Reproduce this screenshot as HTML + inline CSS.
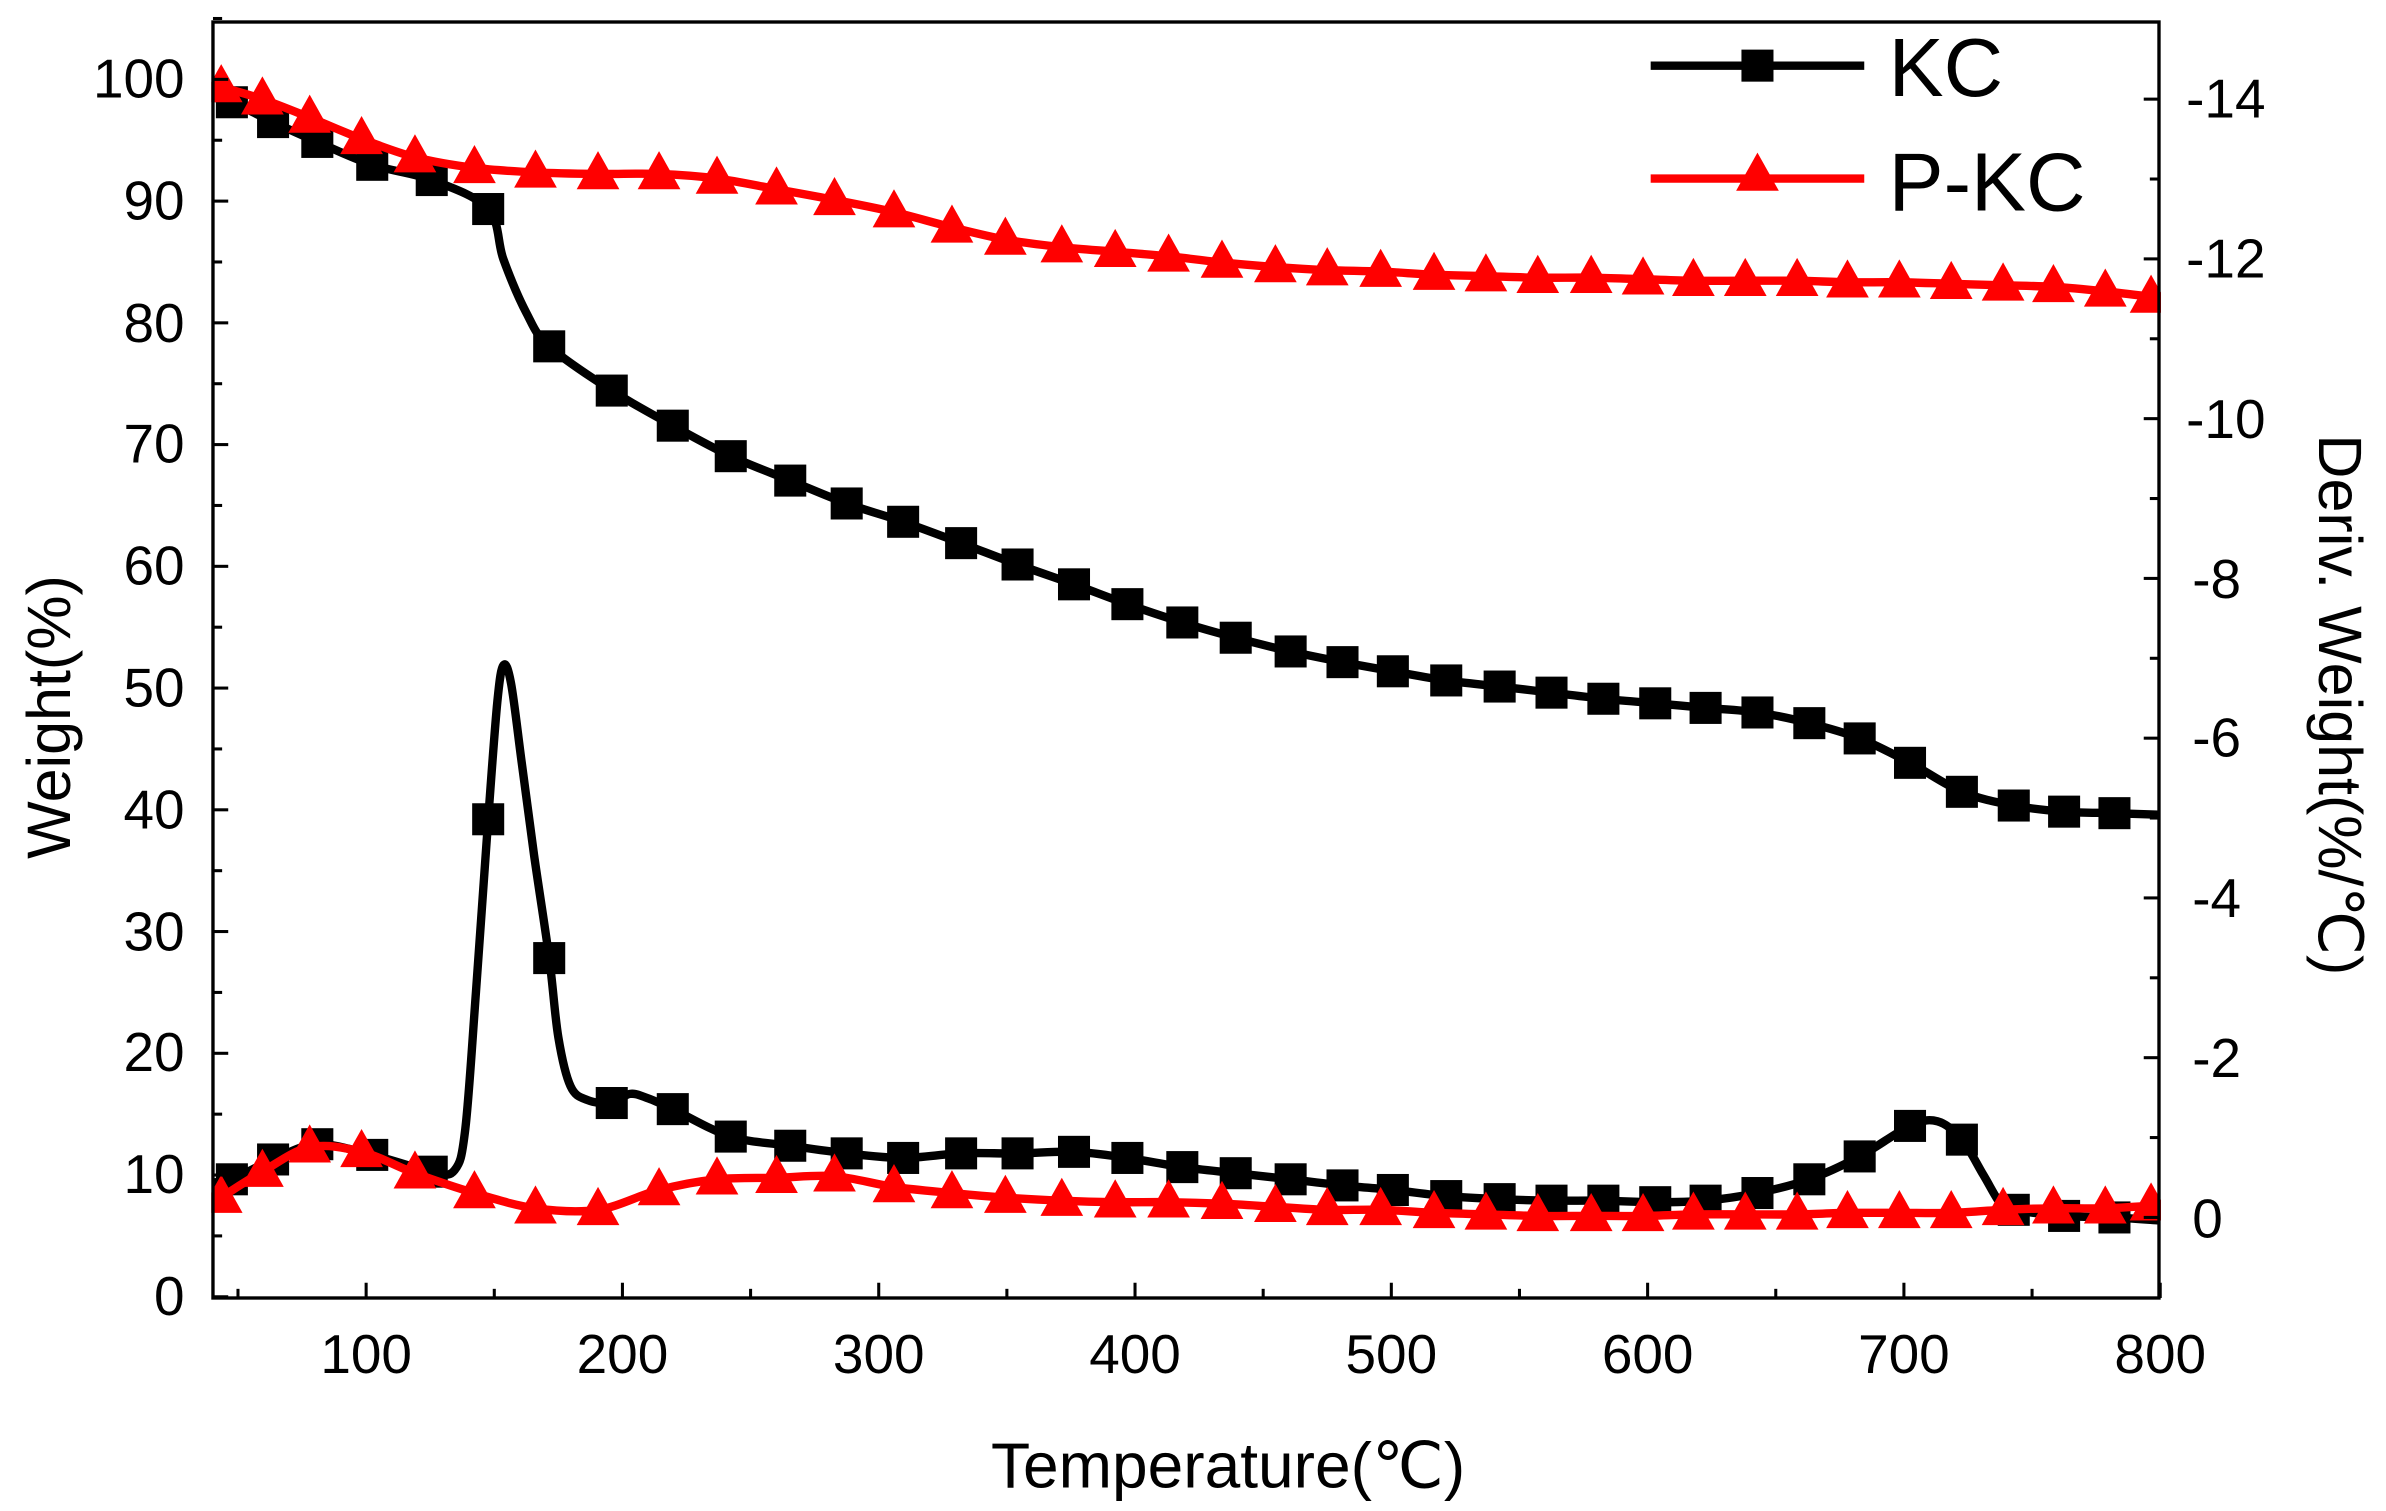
<!DOCTYPE html>
<html><head><meta charset="utf-8"><style>html,body{margin:0;padding:0;background:#fff}svg{display:block}</style></head>
<body>
<svg id="s" width="2386" height="1511" viewBox="0 0 1564 990.4" xmlns="http://www.w3.org/2000/svg" font-family="Liberation Sans, sans-serif">
<rect x="0" y="0" width="1564" height="990.4" fill="#fff"/>
<g id="plot"></g>
<rect x="139.6" y="14.4" width="1275.6" height="836.4" fill="none" stroke="#000" stroke-width="2.2"/>
<g id="ticks" stroke="#000" stroke-width="2"></g>
<g font-size="36" fill="#000" text-anchor="end">
<text x="121" y="64">100</text><text x="121" y="144">90</text><text x="121" y="224">80</text><text x="121" y="303">70</text><text x="121" y="383">60</text><text x="121" y="463">50</text><text x="121" y="543">40</text><text x="121" y="623">30</text><text x="121" y="702">20</text><text x="121" y="782">10</text><text x="121" y="862">0</text>
</g>
<g font-size="36" fill="#000" text-anchor="middle">
<text x="240" y="900">100</text><text x="408" y="900">200</text><text x="576" y="900">300</text><text x="744" y="900">400</text><text x="912" y="900">500</text><text x="1080" y="900">600</text><text x="1248" y="900">700</text><text x="1416" y="900">800</text>
</g>
<g font-size="36" fill="#000" text-anchor="start">
<text x="1433" y="77">-14</text><text x="1433" y="182">-12</text><text x="1433" y="287">-10</text><text x="1437" y="392">-8</text><text x="1437" y="496">-6</text><text x="1437" y="601">-4</text><text x="1437" y="706">-2</text><text x="1437" y="811">0</text>
</g>
<text x="805" y="975" font-size="42" text-anchor="middle">Temperature(℃)</text>
<text transform="translate(46,470) rotate(-90)" font-size="40" text-anchor="middle">Weight(%)</text>
<text transform="translate(1520,462) rotate(90)" font-size="40" text-anchor="middle">Deriv. Weight(%/℃)</text>
<g id="legend"></g>
<text x="1238" y="63" font-size="54">KC</text>
<text x="1238" y="138" font-size="54">P-KC</text>
</svg>
<script>
const NS="http://www.w3.org/2000/svg";
function el(p,t,a){const e=document.createElementNS(NS,t);for(const k in a)e.setAttribute(k,a[k]);p.appendChild(e);return e;}
function path(pts){let d="M"+pts[0][0]+","+pts[0][1];for(let i=0;i<pts.length-1;i++){const p0=pts[i-1]||pts[i],p1=pts[i],p2=pts[i+1],p3=pts[i+2]||p2;const c1=[p1[0]+(p2[0]-p0[0])/6,p1[1]+(p2[1]-p0[1])/6],c2=[p2[0]-(p3[0]-p1[0])/6,p2[1]-(p3[1]-p1[1])/6];d+=`C${c1[0]},${c1[1]} ${c2[0]},${c2[1]} ${p2[0]},${p2[1]}`;}return d;}
const X=t=>240+(t-100)*1.68, YW=w=>850-7.98*w;
const g=document.getElementById("plot");
function sq(x,y,p){el(p||g,"rect",{x:x-10.5,y:y-10.5,width:21,height:21,fill:"#000"});}
function tri(x,y,p){el(p||g,"polygon",{points:`${x},${y-15} ${x-14},${y+10} ${x+14},${y+10}`,fill:"#f00"});}
const kcmx=[152,179,208,244,283,320,360,401,441,479,518,555,592,630,667,704,739,775,810,846,880,913,948,983,1017,1051,1085,1118,1152,1186,1219,1252,1286,1320,1353,1386];
const kcwy=[67,80,93,108,118,137,227,256,279,299,315,330,342,356,370,383,396,408,418,427,434,440,446,450,454,458,461,464,467,474,484,500,519,528,532,533];
let kw=[[140,64]];for(let i=0;i<kcmx.length;i++){kw.push([kcmx[i],kcwy[i]]);if(i==5){kw.push([330,170],[345,205]);}}kw.push([1415,534]);
let kd=[[140,775],[152,773],[179,760],[208,750],[244,757],[283,768],[298,767],[305,740],[312,650],[320,537],[326,460],[330,436],[335,448],[342,500],[350,560],[360,628],[366,680],[374,712],[385,721],[401,723],[413,717],[425,720],[441,727],[479,745],[518,751],[555,756],[592,759],[630,756],[667,756],[704,755],[739,759],[775,765],[810,769],[846,773],[880,777],[913,780],[948,784],[983,786],[1017,787],[1051,787],[1085,788],[1118,787],[1152,782],[1186,773],[1219,758],[1252,738],[1270,735],[1286,747],[1300,770],[1312,790],[1320,793],[1353,797],[1386,798],[1415,800]];
const pmx=[145,172,203,237,272,311,351,392,432,470,509,547,586,624,659,696,731,766,801,836,870,905,940,974,1008,1043,1077,1110,1144,1178,1211,1245,1279,1313,1346,1380,1414];
const pwy=[57,65,77,91,103,110,113,114,114,117,124,131,139,149,157,162,165,168,172,175,177,178,180,181,182,182,183,184,184,184,185,185,186,187,188,191,195];
const pdy=[785,768,752,755,769,782,792,793,780,773,772,771,778,782,785,787,788,788,789,791,793,793,795,796,797,797,797,796,796,796,795,795,795,793,792,792,790];
let pw=[[140,55]],pd=[[140,790]];for(let i=0;i<pmx.length;i++){pw.push([Math.min(pmx[i],1415),pwy[i]]);pd.push([Math.min(pmx[i],1415),pdy[i]]);}
el(g,"path",{d:path(kw),fill:"none",stroke:"#000","stroke-width":5.5});
el(g,"path",{d:path(kd),fill:"none",stroke:"#000","stroke-width":5.5});
kcmx.forEach((x,i)=>sq(x,kcwy[i]));
function interp(pts,x){for(let i=0;i<pts.length-1;i++)if(x>=pts[i][0]&&x<=pts[i+1][0]){const t=(x-pts[i][0])/(pts[i+1][0]-pts[i][0]);return pts[i][1]+t*(pts[i+1][1]-pts[i][1]);}return pts[pts.length-1][1];}
kcmx.forEach(x=>sq(x,interp(kd,x)));
el(g,"path",{d:path(pw),fill:"none",stroke:"#f00","stroke-width":5.5});
el(g,"path",{d:path(pd),fill:"none",stroke:"#f00","stroke-width":5.5});
pmx.forEach((x,i)=>{tri(Math.min(x,1410),pwy[i]);tri(Math.min(x,1410),pdy[i]);});
el(g,"rect",{x:1416.5,y:0,width:20,height:870,fill:"#fff"});
el(g,"rect",{x:120,y:0,width:18.5,height:870,fill:"#fff"});
const tk=document.getElementById("ticks");
for(let t=50;t<=800;t+=50){const x=X(t);if(x<140)continue;el(tk,"line",{x1:x,x2:x,y1:850.8,y2:850.8-(t%100?6:10)});}
for(let w=0;w<=105;w+=5){const y=YW(w);el(tk,"line",{x1:139.6,x2:139.6+(w%10?6:10),y1:y,y2:y});}
for(let d=0;d<=15;d++){const y=798-52.36*d;if(y<15)continue;el(tk,"line",{x1:1415.2,x2:1415.2-(d%2?6:10),y1:y,y2:y});}
const lg=document.getElementById("legend");
el(lg,"line",{x1:1082,x2:1222,y1:43,y2:43,stroke:"#000","stroke-width":5.5});
sq(1152,43,lg);
el(lg,"line",{x1:1082,x2:1222,y1:117,y2:117,stroke:"#f00","stroke-width":5.5});
tri(1152,115,lg);
</script>
</body></html>
